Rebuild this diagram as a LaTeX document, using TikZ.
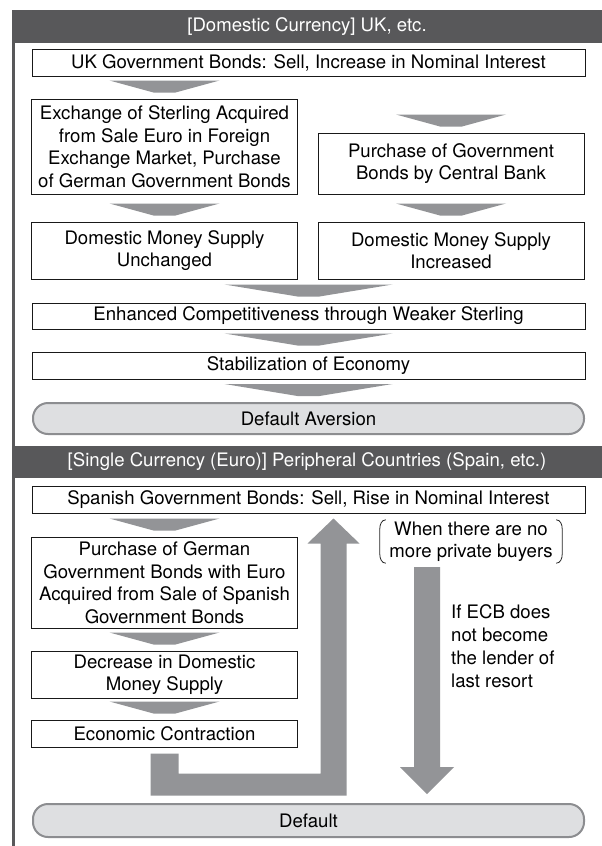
\documentclass[tikz,border=0pt]{standalone}
\usepackage{fontspec}
\setmainfont{TeX Gyre Heros}
\usepackage{tikz}
\usetikzlibrary{calc}
\definecolor{bandgray}{HTML}{58585A}
\definecolor{flowgray}{HTML}{939497}
\definecolor{pillgray}{HTML}{DEDFE1}
\definecolor{rimgray}{HTML}{8C8D90}
\tikzset{
  txt/.style={font=\fontsize{18.6}{22.5}\selectfont},
  ecobox/.style={txt, rectangle, draw=black!90, line width=1pt, fill=white, inner sep=0pt, align=center},
  ecopill/.style={txt, rectangle, rounded corners=15pt, draw=rimgray, line width=2pt, fill=pillgray, minimum width=551, inner sep=0pt},
  header/.style={txt, rectangle, fill=bandgray, text=white, minimum width=590, inner sep=0pt},
  note/.style={txt, inner sep=0pt, align=center},
  flow/.style={fill=flowgray},
  bracket/.style={draw=black!85, line width=0.8pt},
  frame/.style={draw=bandgray, line width=3pt}
}
\newcommand{\ecoheader}[4] {\node at (#1) (#2) [header, minimum height=#3] {#4};}
\newcommand{\ecobox}[5] {\node at (#1) (#2) [ecobox, minimum width=#3, minimum height=#4] {#5};}
\newcommand{\ecopill}[4] {\node at (#1) (#2) [ecopill, minimum height=#3] {#4};}
\newcommand{\ecoflow}[2] {\fill [flow] ($(#1.north)+(-#2,18)$) -- ($(#1.north)+(#2,18)$) -- ($(#1.north)+(11,6)$) -- ($(#1.north)+(-11,6)$) -- cycle;}

\begin{document}
\begin{tikzpicture}[x=1pt,y=1pt]
\useasboundingbox (0,0) rectangle (602,-846);
\fill [white] (0,0) rectangle (602,-846);
\draw [frame] (13.5,-10) -- (13.5,-846);

\ecoheader {307,-26.5}{domestic}{33}{[Domestic Currency] UK, etc.}
\ecobox    {308.5,-62.5}{ukbonds}{553}{27}{UK Government Bonds: Sell, Increase in Nominal Interest}
\ecobox    {164.5,-146.5}{exchange}{266}{95}{Exchange of Sterling Acquired\\from Sale Euro in Foreign\\Exchange Market, Purchase\\of German Government Bonds}
\ecoflow   {exchange}{55}
\ecobox    {451,-163.5}{cbpurchase}{266}{61}{Purchase of Government\\Bonds by Central Bank}
\ecoflow   {cbpurchase}{55}
\ecobox    {164.5,-250.5}{moneyflat}{266}{57}{Domestic Money Supply\\Unchanged}
\ecoflow   {moneyflat}{55}
\ecobox    {451,-250.5}{moneyup}{266}{57}{Domestic Money Supply\\Increased}
\ecoflow   {moneyup}{55}
\ecobox    {308.5,-316}{compete}{553}{26}{Enhanced Competitiveness through Weaker Sterling}
\ecoflow   {compete}{84}
\ecobox    {308.5,-365.5}{stable}{553}{27}{Stabilization of Economy}
\ecoflow   {stable}{84}
\ecopill   {308.5,-418.5}{aversion}{31}{Default Aversion}
\ecoflow   {aversion}{84}

\ecoheader {307,-462}{single}{32}{[Single Currency (Euro)] Peripheral Countries (Spain, etc.)}
\ecobox    {308.5,-499.5}{spbonds}{553}{27}{Spanish Government Bonds: Sell, Rise in Nominal Interest}
\ecobox    {164.5,-582.5}{german}{266}{91}{Purchase of German\\Government Bonds with Euro\\Acquired from Sale of Spanish\\Government Bonds}
\ecoflow   {german}{55}
\ecobox    {164.5,-674.5}{moneydown}{266}{47}{Decrease in Domestic\\Money Supply}
\ecoflow   {moneydown}{55}
\ecobox    {164.5,-733.5}{contract}{266}{27}{Economic Contraction}
\ecoflow   {contract}{55}
\ecopill   {308.5,-820.5}{default}{33}{Default}

\node at (471,-541.5) (nobuyers) [note, minimum width=182, minimum height=43] {When there are no\\more private buyers};
\draw [bracket] ($(nobuyers.north west)+(6,0)$) to[out=180,in=90] ($(nobuyers.north west)+(0,-9)$) -- ($(nobuyers.south west)+(0,9)$) to[out=-90,in=180] ($(nobuyers.south west)+(6,0)$);
\draw [bracket] ($(nobuyers.north east)+(-6,0)$) to[out=0,in=90] ($(nobuyers.north east)+(0,-9)$) -- ($(nobuyers.south east)+(0,9)$) to[out=-90,in=0] ($(nobuyers.south east)+(-6,0)$);
\node at (451,-646.5) (lender) [note, anchor=west, align=left, font=\fontsize{18.6}{23}\selectfont] {If ECB does\\not become\\the lender of\\last resort};

\coordinate (loopturn) at ($(contract.south)+(169,-48)$);
\coordinate (uptip) at ($(spbonds.south)+(25,-5)$);
\fill [flow] ($(contract.south)+(-14,-6)$) -- ($(contract.south)+(14,-6)$) -- ($(contract.south)+(14,-26)$)
  -- ($(loopturn)+(-13,22)$) -- ($(uptip)+(-13,-25)$) -- ($(uptip)+(-26,-25)$) -- (uptip)
  -- ($(uptip)+(26,-25)$) -- ($(uptip)+(13,-25)$) -- ($(loopturn)+(13,0)$) -- ($(contract.south)+(-14,-48)$) -- cycle;

\coordinate (downtop) at ($(nobuyers.south)+(-44,-4)$);
\coordinate (downtip) at ($(downtop |- default.north)+(0,9)$);
\fill [flow] ($(downtop)+(-13,0)$) -- ($(downtop)+(13,0)$) -- ($(downtip)+(13,27)$) -- ($(downtip)+(27,27)$)
  -- (downtip) -- ($(downtip)+(-27,27)$) -- ($(downtip)+(-13,27)$) -- cycle;

\end{tikzpicture}
\end{document}
